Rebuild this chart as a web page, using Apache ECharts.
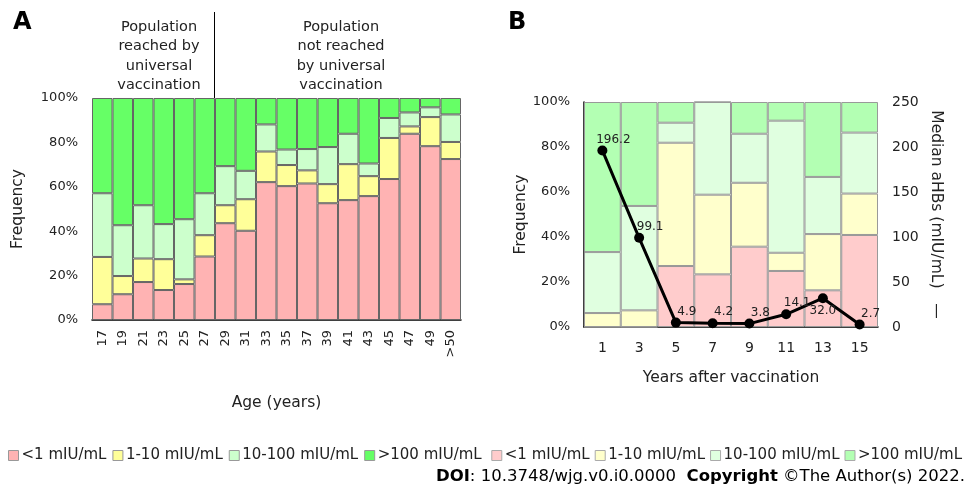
<!DOCTYPE html>
<html>
<head>
<meta charset="utf-8">
<script src="https://cdn.jsdelivr.net/npm/echarts@6/dist/echarts.min.js"></script>
<style>
  html, body { margin: 0; padding: 0; background: #fff; }
  #main { width: 970px; height: 490px; }
</style>
</head>
<body>
<div id="main"></div>
<script>
// 数据 - 图A（按年龄）
var ages = ['17', '19', '21', '23', '25', '27', '29', '31', '33', '35', '37', '39', '41', '43', '45', '47', '49', '>50'];
var agePink = [7.1, 11.6, 17.1, 13.5, 16.2, 28.6, 43.6, 40.2, 62.1, 60.3, 61.5, 52.6, 54.0, 55.8, 63.5, 83.9, 78.3, 72.5];
var ageYellow = [21.3, 8.2, 10.6, 13.9, 2.1, 9.6, 8.1, 14.2, 13.8, 9.5, 5.9, 8.6, 16.2, 9.0, 18.5, 3.3, 13.1, 7.7];
var ageLight = [28.7, 22.9, 24.0, 15.8, 27.1, 18.9, 17.6, 12.8, 12.2, 7.0, 9.6, 16.7, 13.7, 5.7, 9.0, 6.3, 4.4, 12.4];
var ageGreen = [42.9, 57.3, 48.3, 56.8, 54.6, 42.9, 30.7, 32.8, 11.9, 23.2, 23.0, 22.1, 16.1, 29.5, 9.0, 6.5, 4.2, 7.4];

// 数据 - 图B（接种后年数）
var years = ['1', '3', '5', '7', '9', '11', '13', '15'];
var yrPink = [0, 0, 27.1, 23.4, 35.7, 24.9, 16.3, 40.9];
var yrYellow = [6.2, 7.4, 54.8, 35.4, 28.4, 8.1, 25.0, 18.4];
var yrLight = [27.1, 46.4, 8.9, 41.2, 21.8, 58.7, 25.4, 27.1];
var yrGreen = [66.7, 46.2, 9.2, 0, 14.1, 8.3, 33.3, 13.6];
var median = [196.2, 99.1, 4.9, 4.2, 3.8, 14.1, 32.0, 2.7];

var levels = ['<1 mIU/mL', '1-10 mIU/mL', '10-100 mIU/mL', '>100 mIU/mL'];

var FONT = 'DejaVu Sans';
var colorsA = ['#ffb3b3', '#ffff99', '#ccffcc', '#66ff66'];
var colorsB = ['#ffcccc', '#ffffcc', '#e0ffe0', '#b3ffb3'];

var myChart = echarts.init(document.getElementById('main'));

function barSeries(name, data, color, idx, border, stack) {
    return {
        name: name,
        type: 'bar',
        stack: stack,
        xAxisIndex: idx,
        yAxisIndex: idx,
        barCategoryGap: 0,
        data: data,
        itemStyle: {color: color, borderColor: border, borderWidth: 1},
        emphasis: {disabled: true}
    };
}

var seriesA = [agePink, ageYellow, ageLight, ageGreen].map(function (d, i) {
    return barSeries(levels[i], d, colorsA[i], 0, '#666', 'a');
});
// 图B用带空格的名字，区分图例
var seriesB = [yrPink, yrYellow, yrLight, yrGreen].map(function (d, i) {
    return barSeries(levels[i] + ' ', d, colorsB[i], 1, '#999', 'b');
});

var lineData = median.map(function (v, i) {
    if (i === 6) {
        return {value: v, label: {position: 'bottom', offset: [0, -3]}};
    }
    return v;
});

var axisText = {fontFamily: FONT, fontSize: 13, color: '#222'};
var legendText = {fontFamily: FONT, fontSize: 15, color: '#222', padding: [0, 0, 0, -2]};

var option = {
    animation: false,
    textStyle: {fontFamily: FONT},
    grid: [
        {left: 92, top: 98, width: 369, height: 222},
        {left: 584, top: 102, width: 294, height: 225}
    ],
    xAxis: [
        {
            type: 'category', gridIndex: 0, data: ages,
            axisLine: {lineStyle: {color: '#000', width: 1.5}},
            axisTick: {show: false},
            axisLabel: Object.assign({rotate: 90, margin: 10}, axisText),
            name: 'Age (years)', nameLocation: 'middle', nameGap: 75,
            nameTextStyle: {fontFamily: FONT, fontSize: 15.5, color: '#222'}
        },
        {
            type: 'category', gridIndex: 1, data: years,
            axisLine: {lineStyle: {color: '#000', width: 1.5}},
            axisTick: {show: false},
            axisLabel: Object.assign({margin: 14}, axisText, {fontSize: 14}),
            name: 'Years after vaccination', nameLocation: 'middle', nameGap: 43,
            nameTextStyle: {fontFamily: FONT, fontSize: 15.5, color: '#222'}
        }
    ],
    yAxis: [
        {
            type: 'value', gridIndex: 0, min: 0, max: 100, interval: 20,
            splitLine: {show: false}, axisLine: {show: false}, axisTick: {show: false},
            axisLabel: Object.assign({formatter: '{value}%', margin: 14}, axisText),
            name: 'Frequency', nameLocation: 'middle', nameGap: 66,
            nameTextStyle: {fontFamily: FONT, fontSize: 15.5, color: '#222'}
        },
        {
            type: 'value', gridIndex: 1, min: 0, max: 100, interval: 20,
            splitLine: {show: false},
            axisLine: {show: true, lineStyle: {color: '#000', width: 1.5}},
            axisTick: {show: false},
            axisLabel: Object.assign({formatter: '{value}%', margin: 14}, axisText),
            name: 'Frequency', nameLocation: 'middle', nameGap: 40,
            nameTextStyle: {fontFamily: FONT, fontSize: 15.5, color: '#222'}
        },
        {
            type: 'value', gridIndex: 1, position: 'right', min: 0, max: 250, interval: 50,
            splitLine: {show: false}, axisLine: {show: false}, axisTick: {show: false},
            axisLabel: Object.assign({margin: 14}, axisText, {fontSize: 14}),
            name: 'Median aHBs (mIU/mL)   \u2014', nameLocation: 'middle', nameGap: 50, nameRotate: -90,
            nameTextStyle: {fontFamily: FONT, fontSize: 15.5, color: '#222'}
        }
    ],
    legend: [
        {
            data: levels, left: 3, top: 443, itemWidth: 10, itemHeight: 10, itemGap: 6,
            icon: 'rect', selectedMode: false,
            itemStyle: {borderColor: '#999', borderWidth: 1},
            textStyle: legendText
        },
        {
            data: levels.map(function (n) { return n + ' '; }), right: 3, top: 443,
            itemWidth: 10, itemHeight: 10, itemGap: 5, icon: 'rect', selectedMode: false,
            itemStyle: {borderColor: '#aaa', borderWidth: 1},
            formatter: function (n) { return n.trim(); },
            textStyle: legendText
        }
    ],
    series: seriesA.concat(seriesB).concat([{
        name: 'Median',
        type: 'line',
        xAxisIndex: 1,
        yAxisIndex: 2,
        data: lineData,
        symbol: 'circle',
        symbolSize: 10,
        lineStyle: {color: '#000', width: 3},
        itemStyle: {color: '#000'},
        label: {
            show: true, position: 'top', offset: [11, 5],
            fontFamily: FONT, fontSize: 12, color: '#222',
            formatter: function (p) { return p.value.toFixed(1); }
        },
        z: 5
    }]),
    graphic: [
        {type: 'text', left: 13, top: 11, style: {text: 'A', font: 'bold 24px ' + FONT, fill: '#000'}},
        {type: 'text', left: 508, top: 11, style: {text: 'B', font: 'bold 24px ' + FONT, fill: '#000'}},
        {type: 'line', shape: {x1: 214.5, y1: 12, x2: 214.5, y2: 98}, style: {stroke: '#000', lineWidth: 1}},
        {type: 'text', x: 159, y: 17, style: {
            text: 'Population\nreached by\nuniversal\nvaccination', align: 'center', lineHeight: 19.5,
            font: '14.5px ' + FONT, fill: '#222'}},
        {type: 'text', x: 341, y: 17, style: {
            text: 'Population\nnot reached\nby universal\nvaccination', align: 'center', lineHeight: 19.5,
            font: '14.5px ' + FONT, fill: '#222'}},
        {type: 'text', right: 5, top: 468, style: {
            text: '{b|DOI}: 10.3748/wjg.v0.i0.0000  {b|Copyright} \u00a9The Author(s) 2022.',
            font: '16.5px ' + FONT, fill: '#000',
            rich: {b: {fontWeight: 'bold', fontSize: 16.5, fontFamily: FONT}}}}
    ]
};

myChart.setOption(option);
</script>
</body>
</html>
